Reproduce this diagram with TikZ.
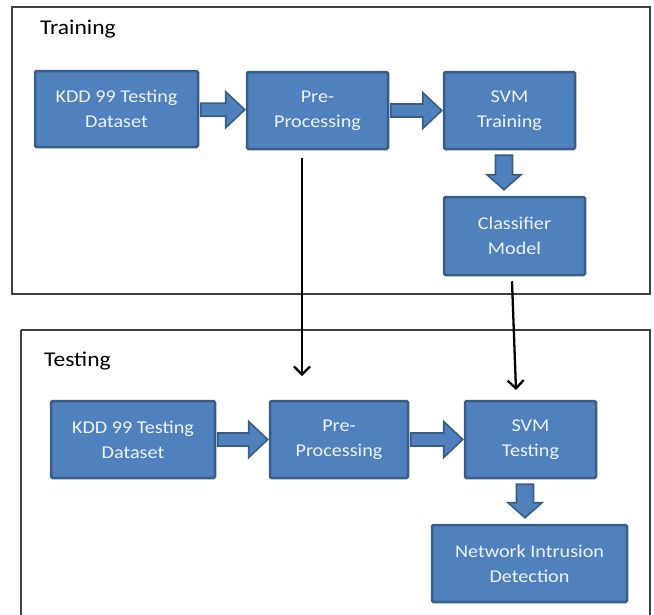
\documentclass[tikz,border=0pt]{standalone}
\usepackage{fontspec}
\setmainfont{Carlito}[FakeStretch=1.12]
\usetikzlibrary{calc,arrows.meta}
\definecolor{boxfill}{HTML}{4F81BD}
\definecolor{boxline}{HTML}{385D8A}
\definecolor{boxtext}{HTML}{EEF3FA}
\tikzset{
  stage/.style={rectangle, rounded corners=1.5pt, fill=boxfill, draw=boxline, line width=2.5pt,
    text=boxtext, font=\fontsize{18}{25}\selectfont, align=center, inner sep=0pt},
  frame/.style={draw=black!75, line width=1.6pt},
  title/.style={font=\fontsize{21}{24}\selectfont, anchor=west, inner sep=0pt},
  barrow/.style={fill=boxfill, draw=boxline, line width=1.6pt},
  conn/.style={draw=black, line width=2.3pt, -{Straight Barb[length=8pt,width=16pt]}},
}
\newcommand{\harrow}[2]{%
  \path let \p1=(#1.east), \p2=(#2.west), \n1={(\y1+\y2)/2} in [barrow]
    (\x1+1.5pt,\n1+6.5pt) -- (\x2-20pt,\n1+6.5pt) -- (\x2-20pt,\n1+18pt) -- (\x2-1pt,\n1)
    -- (\x2-20pt,\n1-18pt) -- (\x2-20pt,\n1-6.5pt) -- (\x1+1.5pt,\n1-6.5pt) -- cycle;}
\newcommand{\varrow}[2]{%
  \path let \p1=(#1.south), \p2=(#2.north), \n1={\x1-5.5pt} in [barrow]
    (\n1-8.5pt,\y1-5pt) -- (\n1-8.5pt,\y2+21pt) -- (\n1-17pt,\y2+21pt) -- (\n1,\y2+6pt)
    -- (\n1+17pt,\y2+21pt) -- (\n1+8.5pt,\y2+21pt) -- (\n1+8.5pt,\y1-5pt) -- cycle;}
\begin{document}
\begin{tikzpicture}[x=1pt,y=-1pt]
\useasboundingbox (0,0) rectangle (654,614);
% frames
\draw[frame] (12,7) rectangle (650,294);
\draw[frame] (21,330) -- (21,625) (21,330) -- (650,330) -- (650,625);
\node[title] (ttrain) at (40,29) {Training};
\node[title] (ttest) at (44,361) {Testing};
% training row
\node[stage, minimum width=163pt, minimum height=76pt] (kdd1) at (116.5,109) {KDD 99 Testing\\Dataset};
\node[stage, minimum width=141pt, minimum height=77pt] (pre1) at (317.5,110.5) {Pre-\\Processing};
\node[stage, minimum width=131pt, minimum height=77pt] (svm1) at (509.5,110.5) {SVM\\Training};
\node[stage, minimum width=141pt, minimum height=78pt] (cls) at (514.5,236) {Classifier\\Model};
% testing row
\node[stage, minimum width=164pt, minimum height=77pt] (kdd2) at (133,439.5) {KDD 99 Testing\\Dataset};
\node[stage, minimum width=138pt, minimum height=77pt] (pre2) at (339,439.5) {Pre-\\Processing};
\node[stage, minimum width=131pt, minimum height=77pt] (svm2) at (530.5,439.5) {SVM\\Testing};
\node[stage, minimum width=195pt, minimum height=77pt] (nid) at (529.5,563.5) {Network Intrusion\\Detection};
% block arrows
\harrow{kdd1}{pre1}
\harrow{pre1}{svm1}
\varrow{svm1}{cls}
\harrow{kdd2}{pre2}
\harrow{pre2}{svm2}
\varrow{svm2}{nid}
% connectors
\coordinate (p1) at (302,376);
\coordinate (p2) at (516,390);
\draw[conn] ([yshift=-8pt]pre1.south -| p1) -- (p1);
\draw[conn] ([xshift=-2.5pt,yshift=-5pt]cls.south) -- (p2);
\end{tikzpicture}
\end{document}
